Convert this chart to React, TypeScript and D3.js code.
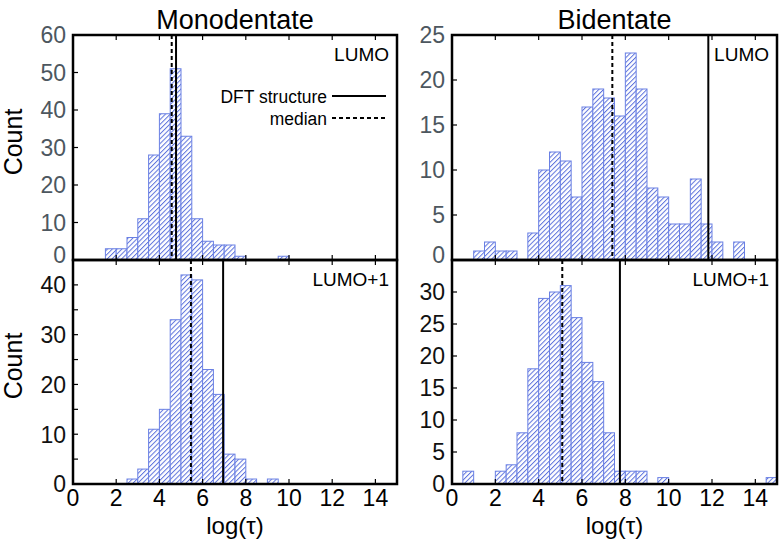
import React from "react";
import * as d3 from "d3";

// ---- data ----
const binStarts = [0, 0.5, 1, 1.5, 2, 2.5, 3, 3.5, 4, 4.5, 5, 5.5, 6, 6.5, 7, 7.5, 8, 8.5, 9, 9.5, 10, 10.5, 11, 11.5, 12, 12.5, 13, 13.5, 14, 14.5];
const binWidth = 0.5;

const monoLumo = [0, 0, 0, 3, 3, 6, 11, 28, 39, 51, 33, 11, 5, 4, 4, 1, 0, 0, 0, 1, 0, 0, 0, 0, 0, 0, 0, 0, 0, 0];
const monoLumo1 = [0, 0, 0, 0, 0, 1, 3, 11, 15, 33, 42, 41, 23, 18, 6, 5, 1, 0, 1, 0, 0, 0, 0, 0, 0, 0, 0, 0, 0, 0];
const biLumo = [0, 0, 1, 2, 1, 1, 0, 3, 10, 12, 11, 7, 17, 19, 18, 16, 23, 19, 8, 7, 4, 4, 9, 4, 2, 0, 2, 0, 0, 0];
const biLumo1 = [0, 2, 0, 0, 2, 3, 8, 18, 29, 30, 31, 26, 19, 16, 8, 2, 2, 2, 0, 1, 0, 0, 0, 0, 0, 0, 0, 0, 0, 1];

const medians = { monoLumo: 4.57, monoLumo1: 5.46, biLumo: 7.4, biLumo1: 5.09 };
const dftValues = { monoLumo: 4.77, monoLumo1: 6.95, biLumo: 11.83, biLumo1: 7.75 };

const xTicks = [0, 2, 4, 6, 8, 10, 12, 14];
const yTicksMonoLumo = [0, 10, 20, 30, 40, 50, 60];
const yTicksMonoLumo1 = [0, 10, 20, 30, 40];
const yMinorMonoLumo1 = [5, 15, 25, 35];
const yTicksBiLumo = [0, 5, 10, 15, 20, 25];
const yTicksBiLumo1 = [0, 5, 10, 15, 20, 25, 30];

const titles = ["Monodentate", "Bidentate"];
const FONT = "'Liberation Sans', Arial, Helvetica, sans-serif";
const BAR = "#6a80e4";
const HATCH = "#5d72dc";

type PanelProps = {
  counts: number[];
  x0: number; x1: number; y0: number; y1: number;
  yMax: number;
  yTicks: number[];
  yMinor?: number[];
  median: number;
  dft: number;
  label: string;
  labelColor: string;
  nudgeZero?: boolean;
};

function Panel(p: PanelProps) {
  const x = d3.scaleLinear().domain([0, 15]).range([p.x0, p.x1]);
  const y = d3.scaleLinear().domain([0, p.yMax]).range([p.y1, p.y0]);
  const tl = 5;
  return (
    <g>
      {binStarts.map((b, i) =>
        p.counts[i] > 0 ? (
          <rect key={i} x={x(b)} y={y(p.counts[i])} width={x(b + binWidth) - x(b)} height={y(0) - y(p.counts[i])}
            fill="url(#hatch)" stroke={BAR} strokeWidth={1} />
        ) : null
      )}
      <line x1={x(p.median)} x2={x(p.median)} y1={p.y0} y2={p.y1} stroke="#000" strokeWidth={2} strokeDasharray="4,3" />
      <line x1={x(p.dft)} x2={x(p.dft)} y1={p.y0} y2={p.y1} stroke="#000" strokeWidth={2} />
      {xTicks.map((t) => (
        <g key={t}>
          <line x1={x(t)} x2={x(t)} y1={p.y1} y2={p.y1 - tl} stroke="#000" strokeWidth={1.2} />
          <line x1={x(t)} x2={x(t)} y1={p.y0} y2={p.y0 + tl} stroke="#000" strokeWidth={1.2} />
        </g>
      ))}
      {p.yTicks.map((t) => (
        <g key={t}>
          <line x1={p.x0} x2={p.x0 + tl} y1={y(t)} y2={y(t)} stroke="#000" strokeWidth={1.2} />
          <text x={p.x0 - 7} y={y(t) - (t === 0 && p.nudgeZero ? 5 : 0)} dy="0.36em" textAnchor="end"
            fontSize={23} fill={p.labelColor} fontFamily={FONT}>{t}</text>
        </g>
      ))}
      {(p.yMinor || []).map((t) => (
        <line key={"m" + t} x1={p.x0} x2={p.x0 + tl} y1={y(t)} y2={y(t)} stroke="#000" strokeWidth={1.2} />
      ))}
      <rect x={p.x0} y={p.y0} width={p.x1 - p.x0} height={p.y1 - p.y0} fill="none" stroke="#000" strokeWidth={2.5} />
      <text x={p.x1 - 8} y={p.y0 + 26} textAnchor="end" fontSize={19} fontFamily={FONT} fill="#000">{p.label}</text>
    </g>
  );
}

export default function App() {
  const L = { x0: 73, x1: 397 };
  const R = { x0: 452, x1: 777 };
  const T = { y0: 35, y1: 260 };
  const B = { y0: 260, y1: 484 };
  return (
    <svg width={780} height={545} style={{ position: "absolute", left: 0, top: 0, background: "#fff" }}>
      <defs>
        <pattern id="hatch" patternUnits="userSpaceOnUse" width={3.4} height={3.4} patternTransform="rotate(45)">
          <rect width={3.4} height={3.4} fill="#fff" />
          <line x1={0.5} y1={0} x2={0.5} y2={3.4} stroke={HATCH} strokeWidth={1} />
        </pattern>
      </defs>
      <Panel counts={monoLumo} {...L} {...T} yMax={60} yTicks={yTicksMonoLumo} median={medians.monoLumo} dft={dftValues.monoLumo} label="LUMO" labelColor="#4d575f" nudgeZero />
      <Panel counts={monoLumo1} {...L} {...B} yMax={45} yTicks={yTicksMonoLumo1} yMinor={yMinorMonoLumo1} median={medians.monoLumo1} dft={dftValues.monoLumo1} label="LUMO+1" labelColor="#111" />
      <Panel counts={biLumo} {...R} {...T} yMax={25} yTicks={yTicksBiLumo} median={medians.biLumo} dft={dftValues.biLumo} label="LUMO" labelColor="#4d575f" nudgeZero />
      <Panel counts={biLumo1} {...R} {...B} yMax={35} yTicks={yTicksBiLumo1} median={medians.biLumo1} dft={dftValues.biLumo1} label="LUMO+1" labelColor="#111" />

      {/* legend */}
      <text x={327} y={103} textAnchor="end" fontSize={19} fontFamily={FONT} transform="translate(327,0) scale(0.92,1) translate(-327,0)">DFT structure</text>
      <line x1={332} x2={386} y1={96} y2={96} stroke="#000" strokeWidth={2} />
      <text x={327} y={125} textAnchor="end" fontSize={19} fontFamily={FONT} transform="translate(327,0) scale(0.92,1) translate(-327,0)">median</text>
      <line x1={332} x2={386} y1={118} y2={118} stroke="#000" strokeWidth={2} strokeDasharray="4,3" />

      {/* x tick labels, axis titles */}
      {[L, R].map((P, k) => {
        const x = d3.scaleLinear().domain([0, 15]).range([P.x0, P.x1]);
        return (
          <g key={k}>
            {xTicks.map((t) => (
              <text key={t} x={x(t)} y={506} textAnchor="middle" fontSize={23} fontFamily={FONT}>{t}</text>
            ))}
            <text x={(P.x0 + P.x1) / 2} y={534} textAnchor="middle" fontSize={24} fontFamily={FONT}>log(τ)</text>
            <text x={(P.x0 + P.x1) / 2} y={29} textAnchor="middle" fontSize={27} fontFamily={FONT}>{titles[k]}</text>
          </g>
        );
      })}
      <text transform={`translate(22,142) rotate(-90)`} textAnchor="middle" fontSize={25} fontFamily={FONT}>Count</text>
      <text transform={`translate(22,366) rotate(-90)`} textAnchor="middle" fontSize={25} fontFamily={FONT}>Count</text>
    </svg>
  );
}
